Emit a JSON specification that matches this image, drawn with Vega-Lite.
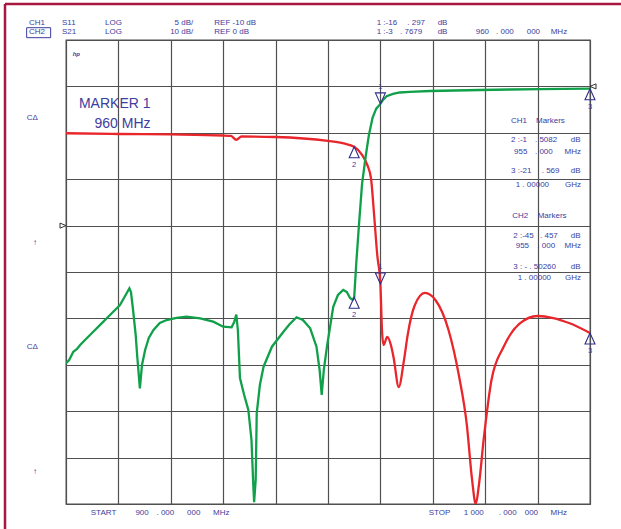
{
  "$schema": "https://vega.github.io/schema/vega-lite/v6.json",
  "width": 524,
  "height": 464,
  "autosize": {"type": "none"},
  "padding": {"left": 66, "top": 40, "right": 31, "bottom": 25},
  "background": "white",
  "config": {
    "view": {"stroke": "#4d4d4d", "strokeWidth": 1.3},
    "text": {"font": "Liberation Sans"},
    "axis": {"grid": true, "gridColor": "#505050", "gridOpacity": 1, "gridWidth": 1.2, "labels": false, "ticks": false, "domain": false, "tickCount": 10}
  },
  "datasets": {
    "s11": [
      {"f": 900, "db": -0.05}, {"f": 910, "db": -0.13}, {"f": 920, "db": -0.18}, {"f": 930, "db": -0.29},
      {"f": 931.5, "db": -0.34}, {"f": 932.5, "db": -0.75}, {"f": 933.5, "db": -0.4}, {"f": 940, "db": -0.45},
      {"f": 950, "db": -0.88}, {"f": 953, "db": -1.15}, {"f": 955, "db": -1.51}, {"f": 956.5, "db": -2.39},
      {"f": 957.5, "db": -3.47}, {"f": 958.2, "db": -4.87}, {"f": 958.8, "db": -8.86}, {"f": 959.4, "db": -13.17},
      {"f": 960, "db": -16.3}, {"f": 960.3, "db": -21.25}, {"f": 960.6, "db": -22.87}, {"f": 961.3, "db": -22.0},
      {"f": 962, "db": -22.87}, {"f": 962.5, "db": -24.16}, {"f": 963.5, "db": -27.39}, {"f": 964.5, "db": -24.5},
      {"f": 965.2, "db": -21.8}, {"f": 966.5, "db": -18.66}, {"f": 968.5, "db": -17.26}, {"f": 970.5, "db": -18.02},
      {"f": 973, "db": -21.25}, {"f": 975, "db": -26.21}, {"f": 976.5, "db": -31.49}, {"f": 977.5, "db": -37.41},
      {"f": 978.2, "db": -40.0}, {"f": 978.8, "db": -37.95}, {"f": 979.7, "db": -33.1}, {"f": 981.2, "db": -26.64},
      {"f": 983.5, "db": -23.08}, {"f": 986.5, "db": -20.6}, {"f": 990, "db": -19.74}, {"f": 993, "db": -19.96},
      {"f": 996, "db": -20.5}, {"f": 1000, "db": -21.57}
    ],
    "s21": [
      {"f": 900, "db": -59.68}, {"f": 900.6, "db": -58.97}, {"f": 901.4, "db": -57.18}, {"f": 902.1, "db": -56.6},
      {"f": 902.7, "db": -55.74}, {"f": 903.3, "db": -55.02}, {"f": 904.2, "db": -54.0}, {"f": 905.2, "db": -52.87},
      {"f": 906.8, "db": -51.06}, {"f": 908.4, "db": -49.27}, {"f": 910.3, "db": -47.11}, {"f": 911.6, "db": -44.53},
      {"f": 912.1, "db": -43.51}, {"f": 912.4, "db": -44.31}, {"f": 912.8, "db": -48.19}, {"f": 913.3, "db": -53.58},
      {"f": 913.6, "db": -58.26}, {"f": 914.1, "db": -65.07}, {"f": 914.5, "db": -60.05}, {"f": 915.1, "db": -56.81},
      {"f": 915.8, "db": -54.22}, {"f": 916.7, "db": -52.5}, {"f": 917.9, "db": -50.99}, {"f": 919.2, "db": -50.35},
      {"f": 921.1, "db": -49.91}, {"f": 923.0, "db": -49.63}, {"f": 925.6, "db": -49.98}, {"f": 928.1, "db": -50.71},
      {"f": 930.0, "db": -51.79}, {"f": 931.6, "db": -51.92}, {"f": 932.1, "db": -50.78}, {"f": 932.5, "db": -49.16},
      {"f": 932.8, "db": -52.5}, {"f": 933.2, "db": -62.85}, {"f": 934.0, "db": -66.51}, {"f": 934.8, "db": -69.74},
      {"f": 935.4, "db": -76.2}, {"f": 935.7, "db": -84.8}, {"f": 935.9, "db": -89.6}, {"f": 936.2, "db": -84.8},
      {"f": 936.4, "db": -70.39}, {"f": 937.0, "db": -64.36}, {"f": 937.7, "db": -60.41}, {"f": 939.3, "db": -56.1},
      {"f": 941.5, "db": -52.87}, {"f": 942.7, "db": -51.21}, {"f": 944.0, "db": -49.76}, {"f": 945.2, "db": -50.35},
      {"f": 946.6, "db": -52.13}, {"f": 947.8, "db": -56.1}, {"f": 948.4, "db": -61.12}, {"f": 948.8, "db": -66.51},
      {"f": 949.2, "db": -61.12}, {"f": 949.8, "db": -56.1}, {"f": 951.0, "db": -47.48}, {"f": 951.9, "db": -44.96},
      {"f": 952.9, "db": -43.88}, {"f": 953.6, "db": -44.31}, {"f": 954.2, "db": -45.6}, {"f": 954.7, "db": -46.0},
      {"f": 955.0, "db": -45.46}, {"f": 955.4, "db": -38.0}, {"f": 955.9, "db": -30.0}, {"f": 956.5, "db": -21.0},
      {"f": 957.2, "db": -15.0}, {"f": 957.8, "db": -10.5}, {"f": 958.5, "db": -6.8}, {"f": 959.2, "db": -4.8},
      {"f": 960, "db": -3.77}, {"f": 960.5, "db": -2.9}, {"f": 961.2, "db": -2.1}, {"f": 962.4, "db": -1.6},
      {"f": 963.7, "db": -1.31}, {"f": 965.6, "db": -1.16}, {"f": 969.5, "db": -0.99}, {"f": 974.2, "db": -0.88},
      {"f": 979, "db": -0.78}, {"f": 984.7, "db": -0.67}, {"f": 990.5, "db": -0.6}, {"f": 995.2, "db": -0.54},
      {"f": 1000, "db": -0.5}
    ],
    "m11": [
      {"f": 960, "db": -16.297, "n": "1", "dir": "down"},
      {"f": 955, "db": -1.5082, "n": "2", "dir": "up"},
      {"f": 1000, "db": -21.569, "n": "3", "dir": "up"}
    ],
    "m21": [
      {"f": 960, "db": -3.7679, "n": "1", "dir": "down"},
      {"f": 955, "db": -45.457, "n": "2", "dir": "up"},
      {"f": 1000, "db": -0.5026, "n": "3", "dir": "up"}
    ],
    "ref11": [{"f": 900, "db": -10}],
    "ref21": [{"f": 1000, "db": 0}],
    "txtL": [
      {"t": "CH1", "f": 892.94, "gy": 10.377}, {"t": "S11", "f": 899.24, "gy": 10.377}, {"t": "LOG", "f": 907.44, "gy": 10.377},
      {"t": "REF -10 dB", "f": 928.3, "gy": 10.377}, {"t": "1 :-16", "f": 959.29, "gy": 10.377}, {"t": ". 297", "f": 965.13, "gy": 10.377},
      {"t": "dB", "f": 970.93, "gy": 10.377},
      {"t": "CH2", "f": 892.94, "gy": 10.172}, {"t": "S21", "f": 899.24, "gy": 10.172}, {"t": "LOG", "f": 907.44, "gy": 10.172},
      {"t": "REF 0 dB", "f": 928.3, "gy": 10.172}, {"t": "1 :-3", "f": 959.29, "gy": 10.172}, {"t": ". 7679", "f": 963.74, "gy": 10.172},
      {"t": "dB", "f": 970.93, "gy": 10.172}, {"t": "960", "f": 978.19, "gy": 10.172}, {"t": ". 000", "f": 982.06, "gy": 10.172},
      {"t": "000", "f": 987.92, "gy": 10.172}, {"t": "MHz", "f": 992.5, "gy": 10.172},
      {"t": "CH1", "f": 984.92, "gy": 8.261}, {"t": "Markers", "f": 989.69, "gy": 8.261},
      {"t": "2 :-1", "f": 984.92, "gy": 7.845}, {"t": ". 5082", "f": 989.5, "gy": 7.845},
      {"t": "955", "f": 985.5, "gy": 7.593}, {"t": ". 000", "f": 989.5, "gy": 7.593},
      {"t": "3 :-21", "f": 984.92, "gy": 7.183}, {"t": ". 569", "f": 990.78, "gy": 7.183},
      {"t": "1 . 00000", "f": 985.82, "gy": 6.875},
      {"t": "CH2", "f": 985.17, "gy": 6.207}, {"t": "Markers", "f": 990.02, "gy": 6.207},
      {"t": "2 :-45", "f": 985.36, "gy": 5.776}, {"t": ". 457", "f": 990.46, "gy": 5.776},
      {"t": "955", "f": 985.82, "gy": 5.56}, {"t": ". 000", "f": 989.94, "gy": 5.56},
      {"t": "3 : - . 50260", "f": 985.36, "gy": 5.114},
      {"t": "1 . 00000", "f": 986.2, "gy": 4.864},
      {"t": "START", "f": 904.73, "gy": -0.201}, {"t": "900", "f": 913.24, "gy": -0.201}, {"t": ". 000", "f": 917.26, "gy": -0.201},
      {"t": "000", "f": 923.11, "gy": -0.201}, {"t": "MHz", "f": 928.05, "gy": -0.201},
      {"t": "STOP", "f": 969.22, "gy": -0.201}, {"t": "1  000", "f": 975.91, "gy": -0.201}, {"t": ". 000", "f": 982.6, "gy": -0.201},
      {"t": "000", "f": 987.54, "gy": -0.201}, {"t": "MHz", "f": 992.48, "gy": -0.201}
    ],
    "txtR": [
      {"t": "5 dB/", "f": 924.29, "gy": 10.377}, {"t": "10 dB/", "f": 924.29, "gy": 10.172},
      {"t": "dB", "f": 998.2, "gy": 7.845}, {"t": "MHz", "f": 998.28, "gy": 7.593},
      {"t": "dB", "f": 998.2, "gy": 7.183}, {"t": "GHz", "f": 998.28, "gy": 6.875},
      {"t": "dB", "f": 998.2, "gy": 5.776}, {"t": "MHz", "f": 998.28, "gy": 5.56},
      {"t": "dB", "f": 998.2, "gy": 5.114}, {"t": "GHz", "f": 998.28, "gy": 4.864}
    ],
    "big": [
      {"t": "MARKER 1", "f": 916.13, "gy": 8.621},
      {"t": "960 MHz", "f": 916.13, "gy": 8.19}
    ],
    "side": [
      {"t": "CΔ", "f": 892.5, "gy": 8.313}, {"t": "↑", "f": 893.7, "gy": 5.631},
      {"t": "CΔ", "f": 892.5, "gy": 3.39}, {"t": "↑", "f": 893.7, "gy": 0.696}
    ],
    "logo": [{"t": "hp", "f": 901.28, "gy": 9.692}],
    "box": [{"f": 892.49, "f2": 897.07, "gy": 10.265, "gy2": 10.05}],
    "border": [
      {"f": 888.36, "f2": 888.36, "gy": 10.776, "gy2": -0.7},
      {"f": 888.36, "f2": 1006.5, "gy": 10.776, "gy2": 10.776}
    ]
  },
  "layer": [
    {
      "layer": [
        {
          "data": {"name": "s11"},
          "mark": {"type": "line", "color": "#e8262b", "strokeWidth": 2.3, "interpolate": "monotone", "clip": true},
          "encoding": {
            "x": {"field": "f", "type": "quantitative", "title": null, "scale": {"domain": [900, 1000], "nice": false}},
            "y": {"field": "db", "type": "quantitative", "title": null, "scale": {"domain": [-40, 10], "nice": false}}
          }
        },
        {
          "data": {"name": "m11"},
          "mark": {"type": "point", "filled": false, "stroke": "#2e2e8a", "strokeWidth": 1.1, "size": 100, "opacity": 1},
          "encoding": {
            "x": {"field": "f", "type": "quantitative", "title": null},
            "y": {"field": "db", "type": "quantitative", "title": null},
            "shape": {"field": "dir", "type": "nominal", "legend": null,
              "scale": {"domain": ["down", "up"], "range": ["M0,0L-1,-2.2L1,-2.2Z", "M0,0L-1,2.2L1,2.2Z"]}}
          }
        },
        {
          "data": {"name": "m11"},
          "transform": [{"filter": "datum.dir === 'down'"}],
          "mark": {"type": "text", "dy": -17, "fontSize": 7.5, "color": "#3d3d9e", "baseline": "middle"},
          "encoding": {
            "x": {"field": "f", "type": "quantitative", "title": null},
            "y": {"field": "db", "type": "quantitative", "title": null},
            "text": {"field": "n"}
          }
        },
        {
          "data": {"name": "m11"},
          "transform": [{"filter": "datum.dir === 'up'"}],
          "mark": {"type": "text", "dy": 18, "fontSize": 7.5, "color": "#3d3d9e", "baseline": "middle"},
          "encoding": {
            "x": {"field": "f", "type": "quantitative", "title": null},
            "y": {"field": "db", "type": "quantitative", "title": null},
            "text": {"field": "n"}
          }
        },
        {
          "data": {"name": "ref11"},
          "mark": {"type": "point", "filled": false, "stroke": "#333333", "strokeWidth": 1, "size": 36, "opacity": 1, "shape": "M0,0L-2,-0.85L-2,0.85Z"},
          "encoding": {
            "x": {"field": "f", "type": "quantitative", "title": null},
            "y": {"field": "db", "type": "quantitative", "title": null}
          }
        }
      ]
    },
    {
      "layer": [
        {
          "data": {"name": "s21"},
          "mark": {"type": "line", "color": "#11a04a", "strokeWidth": 2.3, "clip": true},
          "encoding": {
            "x": {"field": "f", "type": "quantitative", "title": null, "scale": {"domain": [900, 1000], "nice": false}},
            "y": {"field": "db", "type": "quantitative", "title": null, "scale": {"domain": [-90, 10], "nice": false}}
          }
        },
        {
          "data": {"name": "m21"},
          "mark": {"type": "point", "filled": false, "stroke": "#2e2e8a", "strokeWidth": 1.1, "size": 100, "opacity": 1},
          "encoding": {
            "x": {"field": "f", "type": "quantitative", "title": null},
            "y": {"field": "db", "type": "quantitative", "title": null},
            "shape": {"field": "dir", "type": "nominal", "legend": null,
              "scale": {"domain": ["down", "up"], "range": ["M0,0L-1,-2.2L1,-2.2Z", "M0,0L-1,2.2L1,2.2Z"]}}
          }
        },
        {
          "data": {"name": "m21"},
          "transform": [{"filter": "datum.dir === 'down'"}],
          "mark": {"type": "text", "dy": -17, "fontSize": 7.5, "color": "#3d3d9e", "baseline": "middle"},
          "encoding": {
            "x": {"field": "f", "type": "quantitative", "title": null},
            "y": {"field": "db", "type": "quantitative", "title": null},
            "text": {"field": "n"}
          }
        },
        {
          "data": {"name": "m21"},
          "transform": [{"filter": "datum.dir === 'up'"}],
          "mark": {"type": "text", "dy": 18, "fontSize": 7.5, "color": "#3d3d9e", "baseline": "middle"},
          "encoding": {
            "x": {"field": "f", "type": "quantitative", "title": null},
            "y": {"field": "db", "type": "quantitative", "title": null},
            "text": {"field": "n"}
          }
        },
        {
          "data": {"name": "ref21"},
          "mark": {"type": "point", "filled": false, "stroke": "#333333", "strokeWidth": 1, "size": 36, "opacity": 1, "shape": "M0,0L2,-0.85L2,0.85Z"},
          "encoding": {
            "x": {"field": "f", "type": "quantitative", "title": null},
            "y": {"field": "db", "type": "quantitative", "title": null}
          }
        }
      ]
    },
    {
      "layer": [
        {
          "data": {"name": "txtL"},
          "mark": {"type": "text", "align": "left", "baseline": "middle", "fontSize": 8, "color": "#3d3d9e"},
          "encoding": {
            "x": {"field": "f", "type": "quantitative", "title": null, "scale": {"domain": [900, 1000], "nice": false}},
            "y": {"field": "gy", "type": "quantitative", "title": null, "scale": {"domain": [0, 10], "nice": false}},
            "text": {"field": "t"}
          }
        },
        {
          "data": {"name": "txtR"},
          "mark": {"type": "text", "align": "right", "baseline": "middle", "fontSize": 8, "color": "#3d3d9e"},
          "encoding": {
            "x": {"field": "f", "type": "quantitative", "title": null},
            "y": {"field": "gy", "type": "quantitative", "title": null},
            "text": {"field": "t"}
          }
        },
        {
          "data": {"name": "big"},
          "mark": {"type": "text", "align": "right", "baseline": "middle", "fontSize": 14, "color": "#3d3d9e"},
          "encoding": {
            "x": {"field": "f", "type": "quantitative", "title": null},
            "y": {"field": "gy", "type": "quantitative", "title": null},
            "text": {"field": "t"}
          }
        },
        {
          "data": {"name": "side"},
          "mark": {"type": "text", "align": "left", "baseline": "middle", "fontSize": 8, "color": "#3d3d9e"},
          "encoding": {
            "x": {"field": "f", "type": "quantitative", "title": null},
            "y": {"field": "gy", "type": "quantitative", "title": null},
            "text": {"field": "t"}
          }
        },
        {
          "data": {"name": "logo"},
          "mark": {"type": "text", "align": "left", "baseline": "middle", "fontSize": 6, "fontWeight": "bold", "fontStyle": "italic", "color": "#3d3d9e"},
          "encoding": {
            "x": {"field": "f", "type": "quantitative", "title": null},
            "y": {"field": "gy", "type": "quantitative", "title": null},
            "text": {"field": "t"}
          }
        },
        {
          "data": {"name": "box"},
          "mark": {"type": "rect", "fill": "transparent", "stroke": "#3d3d9e", "strokeWidth": 1},
          "encoding": {
            "x": {"field": "f", "type": "quantitative", "title": null},
            "x2": {"field": "f2"},
            "y": {"field": "gy", "type": "quantitative", "title": null},
            "y2": {"field": "gy2"}
          }
        },
        {
          "data": {"name": "border"},
          "mark": {"type": "rule", "color": "#a8173f", "strokeWidth": 2.5},
          "encoding": {
            "x": {"field": "f", "type": "quantitative", "title": null},
            "x2": {"field": "f2"},
            "y": {"field": "gy", "type": "quantitative", "title": null},
            "y2": {"field": "gy2"}
          }
        }
      ]
    }
  ],
  "resolve": {"scale": {"y": "independent"}}
}
